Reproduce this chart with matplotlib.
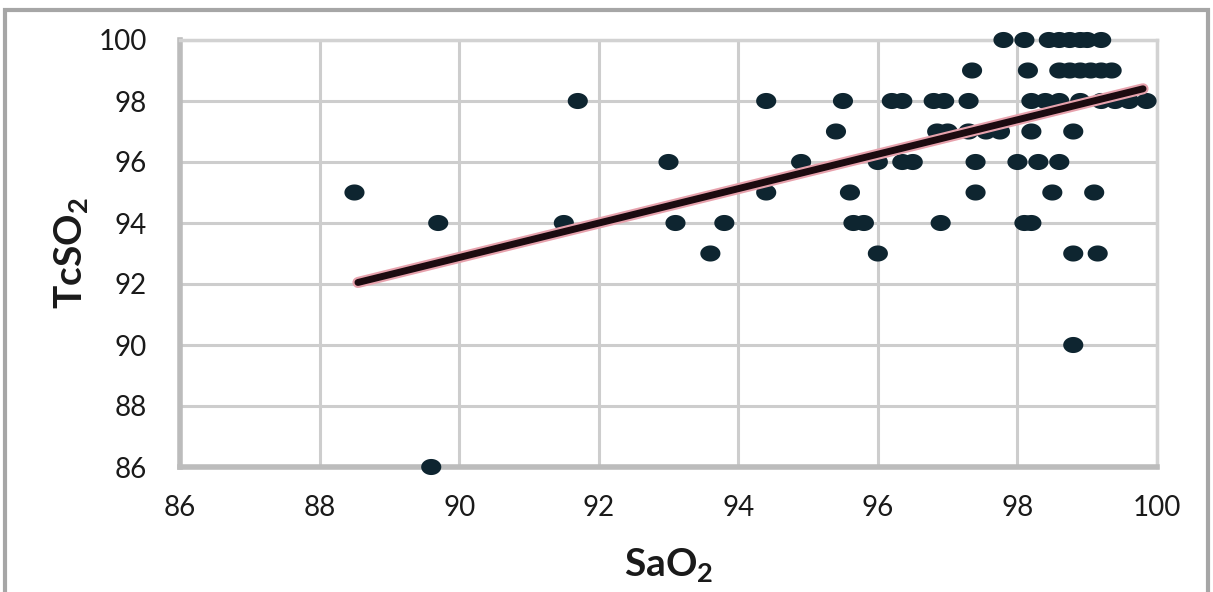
import numpy as np
import matplotlib
matplotlib.use("Agg")
import matplotlib.pyplot as plt
from matplotlib.path import Path
from matplotlib.patches import Rectangle

plt.rcParams['font.family'] = ['Lato', 'DejaVu Sans']
plt.rcParams['mathtext.fontset'] = 'custom'
plt.rcParams['mathtext.rm'] = 'Lato:bold'
plt.rcParams['mathtext.bf'] = 'Lato:bold'

# Data, grouped by TcSO2 row
row100_x = [97.8, 98.1, 98.45, 98.6, 98.75, 98.9, 99.0, 99.2]
row99_x = [97.35, 98.15, 98.6, 98.75, 98.9, 99.05, 99.2, 99.35]
row98_x = [91.7, 94.4, 95.5, 96.2, 96.35, 96.8, 96.95, 97.3, 98.2, 98.4,
           98.6, 98.9, 99.2, 99.4, 99.6, 99.85]
row97_x = [95.4, 96.85, 97.0, 97.3, 97.55, 97.75, 98.2, 98.8]
row96_x = [93.0, 94.9, 96.0, 96.35, 96.5, 97.4, 98.0, 98.3, 98.6]
row95_x = [88.5, 94.4, 95.6, 97.4, 98.5, 99.1]
row94_x = [89.7, 91.5, 93.1, 93.8, 95.65, 95.8, 96.9, 98.1, 98.2]
row93_x = [93.6, 96.0, 98.8, 99.15]
row90_x = [98.8]
row86_x = [89.6]

rows = {100: row100_x, 99: row99_x, 98: row98_x, 97: row97_x, 96: row96_x,
        95: row95_x, 94: row94_x, 93: row93_x, 90: row90_x, 86: row86_x}

sao2 = []
tcso2 = []
for yv, xs in rows.items():
    for xv in xs:
        sao2.append(xv)
        tcso2.append(yv)

trend_x = [88.55, 99.8]
trend_y = [92.05, 98.4]

x_ticks = [86, 88, 90, 92, 94, 96, 98, 100]
y_ticks = [86, 88, 90, 92, 94, 96, 98, 100]

W, H = 1213, 592
fig = plt.figure(figsize=(W / 100, H / 100), dpi=100)
ax = fig.add_axes([180 / W, 1 - 467 / H, (1157 - 180) / W, (467 - 40) / H])

ax.set_xlim(86, 100)
ax.set_ylim(86, 100)
ax.set_xticks(x_ticks)
ax.set_yticks(y_ticks)
ax.grid(True, color='#cdcdcd', lw=2.2, zorder=0)
ax.set_axisbelow(True)
ax.tick_params(length=0, labelsize=20, colors='#1a1a1a')
ax.tick_params(axis='y', pad=24)
ax.tick_params(axis='x', pad=20)
for s in ['left', 'bottom']:
    ax.spines[s].set_color('#bcbcbc')
    ax.spines[s].set_linewidth(4)
for s in ['right', 'top']:
    ax.spines[s].set_color('#d2d2d2')
    ax.spines[s].set_linewidth(2.5)

# elliptical marker
t = np.linspace(0, 2 * np.pi, 60)
ell = Path(np.column_stack([1.25 * np.cos(t), np.sin(t)]), closed=True)
ax.scatter(sao2, tcso2, marker=ell, s=210, color='#0e2530', edgecolors='none',
           zorder=3, clip_on=False)

ax.plot(trend_x, trend_y, color='#e7a2ad', lw=8, solid_capstyle='round', zorder=4)
ax.plot(trend_x, trend_y, color='#1c0b10', lw=5, solid_capstyle='round', zorder=5)

ax.set_xlabel(r'$\mathrm{SaO_2}$', fontsize=28, labelpad=18, color='#1a1a1a')
ax.set_ylabel(r'$\mathrm{TcSO_2}$', fontsize=28, labelpad=6, color='#1a1a1a')

fig.patches.append(Rectangle((5 / W, -0.1), (1208 - 5) / W, 1.1 - 10 / H,
                             transform=fig.transFigure, fill=False,
                             edgecolor='#a6a6a6', lw=3))

fig.savefig('out.png', dpi=100)
